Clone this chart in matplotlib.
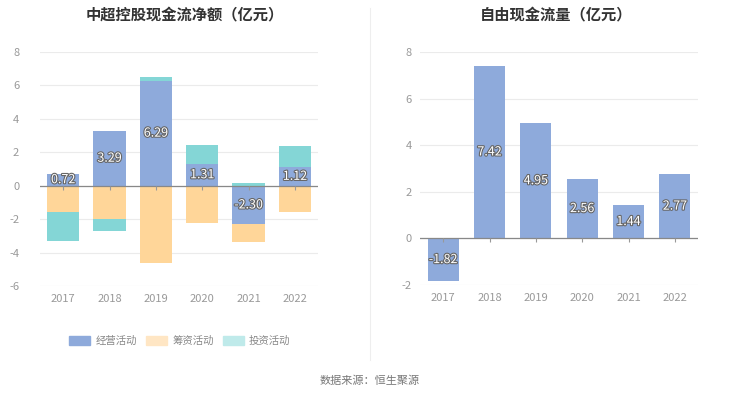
import numpy as np
import matplotlib.pyplot as plt
import matplotlib.patheffects as pe
from matplotlib.patches import Patch

plt.rcParams['font.family'] = ['Noto Sans CJK SC', 'DejaVu Sans']
plt.rcParams['axes.unicode_minus'] = False

years = ['2017', '2018', '2019', '2020', '2021', '2022']
jingying = [0.72, 3.29, 6.29, 1.31, -2.30, 1.12]
chouzi = [-1.60, -2.00, -4.64, -2.26, -1.04, -1.60]
touzi = [-1.70, -0.70, 0.22, 1.13, 0.18, 1.24]
ziyou = [-1.82, 7.42, 4.95, 2.56, 1.44, 2.77]

c_blue = '#8eaadb'
c_orange = '#ffd699'
c_teal = '#84d6d6'
grey = '#999999'

fig = plt.figure(figsize=(7.4, 4.0), dpi=100)
ax1 = fig.add_axes([0.054, 0.285, 0.376, 0.585])
ax2 = fig.add_axes([0.5676, 0.2875, 0.3757, 0.5825])

def style(ax, lo, hi, ypad):
    ax.set_ylim(lo, hi)
    ax.set_xlim(-0.5, 5.5)
    ax.set_yticks(np.arange(lo, hi + 1, 2))
    ax.grid(axis='y', color='#ebebeb', lw=0.8)
    ax.set_axisbelow(True)
    for s in ax.spines.values():
        s.set_visible(False)
    ax.tick_params(length=0, colors=grey, labelsize=8)
    ax.tick_params(axis='x', pad=6)
    ax.tick_params(axis='y', pad=ypad)
    ax.axhline(0, color='#888888', lw=0.9, zorder=3)
    ax.plot(range(len(years)), [0] * len(years), ls='none', marker=3,
            ms=3, mew=0.8, color='#999999', zorder=3)

lab_fx = [pe.withStroke(linewidth=1.6, foreground='#666666')]

x = np.arange(len(years))
w = 0.7
# stacked positive / negative
pos = np.zeros(len(years))
neg = np.zeros(len(years))
for vals, col in [(jingying, c_blue), (chouzi, c_orange), (touzi, c_teal)]:
    vals = np.array(vals)
    base = np.where(vals >= 0, pos, neg)
    ax1.bar(x, vals, w, bottom=base, color=col, zorder=2)
    pos = pos + np.where(vals >= 0, vals, 0)
    neg = neg + np.where(vals < 0, vals, 0)

for i, v in enumerate(jingying):
    ax1.text(i, v / 2, f'{v:.2f}', ha='center', va='center',
             color='white', fontsize=9, path_effects=lab_fx, zorder=4)

style(ax1, -6, 8, 15)
ax1.set_xticks(x, years)

ax2.bar(x, ziyou, 0.67, color=c_blue, zorder=2)
for i, v in enumerate(ziyou):
    ax2.text(i, v / 2, f'{v:.2f}', ha='center', va='center',
             color='white', fontsize=9, path_effects=lab_fx, zorder=4)
style(ax2, -2, 8, 6)
ax2.set_xticks(x, years)

fig.text(0.25, 0.965, '中超控股现金流净额（亿元）', ha='center', va='center',
         fontsize=11, fontweight='bold', color='#333333')
fig.text(0.752, 0.965, '自由现金流量（亿元）', ha='center', va='center',
         fontsize=11, fontweight='bold', color='#333333')

fig.add_artist(plt.Line2D([0.5, 0.5], [0.1, 0.98], color='#eeeeee', lw=0.8))

handles = [Patch(color=c_blue), Patch(color='#ffe6c4'), Patch(color='#bfeaea')]
fig.legend(handles, ['经营活动', '筹资活动', '投资活动'], loc='center',
           bbox_to_anchor=(0.243, 0.148), ncol=3, frameon=False, fontsize=7.5,
           handlelength=2.0, handleheight=1.0, columnspacing=0.9,
           handletextpad=0.5, labelcolor='#888888')

fig.text(0.5, 0.047, '数据来源：恒生聚源', ha='center', va='center',
         fontsize=8, color='#777777')

fig.savefig('out.png', dpi=100)
